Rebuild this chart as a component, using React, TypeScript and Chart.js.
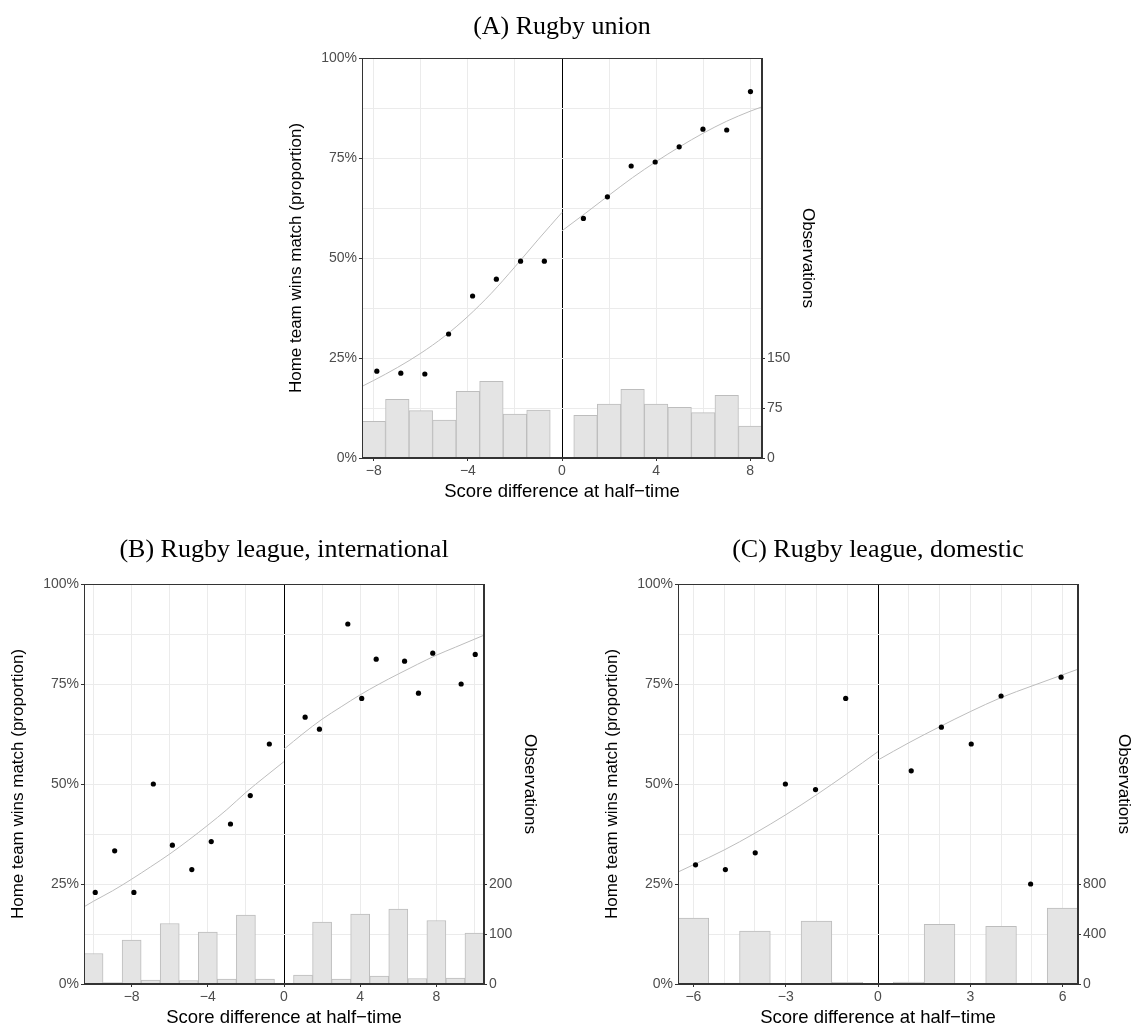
import React, { useEffect, useRef } from 'react';
import { Chart, registerables } from 'chart.js';

Chart.register(...registerables);

// ---------------- Panel A: Rugby union ----------------
const unionBinX = [-8, -7, -6, -5, -4, -3, -2, -1, 1, 2, 3, 4, 5, 6, 7, 8];
const unionBinN = [55, 88, 71, 57, 100, 115, 66, 72, 64, 81, 103, 81, 76, 68, 94, 48];
const unionPointX = [-7.87, -6.85, -5.83, -4.82, -3.8, -2.79, -1.76, -0.75, 0.91, 1.93, 2.94, 3.96, 4.98, 5.99, 7.0, 8.01];
const unionPointY = [21.7, 21.2, 21.0, 31.0, 40.5, 44.7, 49.2, 49.2, 59.9, 65.3, 73.0, 74.0, 77.8, 82.2, 82.0, 91.6];
const unionCurveLeftX = [-8.5, -8, -7, -6, -5, -4, -3, -2, -1, 0];
const unionCurveLeftY = [17.9, 19.4, 22.6, 26.2, 30.4, 35.4, 41.2, 47.8, 54.7, 61.4];
const unionCurveRightX = [0, 1, 2, 3, 4, 5, 6, 7, 8, 8.5];
const unionCurveRightY = [56.8, 61.2, 65.7, 70.1, 74.1, 77.8, 81.2, 84.2, 86.7, 87.8];
const unionXGrid = [-8, -6, -4, -2, 0, 2, 4, 6, 8];
const unionXLabels = [-8, -4, 0, 4, 8];
const unionObsTicks = [0, 75, 150];

// ---------------- Panel B: Rugby league, international ----------------
const intlBinX = [-10, -9, -8, -7, -6, -5, -4, -3, -2, -1, 1, 2, 3, 4, 5, 6, 7, 8, 9, 10];
const intlBinN = [61, 3, 88, 8, 121, 7, 104, 10, 138, 10, 18, 124, 10, 140, 16, 150, 11, 127, 12, 102];
const intlPointX = [-9.91, -8.89, -7.88, -6.86, -5.86, -4.84, -3.82, -2.81, -1.77, -0.77, 1.11, 1.86, 3.35, 4.08, 4.84, 6.33, 7.06, 7.81, 9.3, 10.04];
const intlPointY = [22.9, 33.3, 22.9, 50.0, 34.7, 28.6, 35.6, 40.0, 47.1, 60.0, 66.7, 63.7, 90.0, 71.4, 81.2, 80.7, 72.7, 82.7, 75.0, 82.4];
const intlCurveLeftX = [-10.5, -10, -9, -8, -7, -6, -5, -4, -3, -2, -1, 0];
const intlCurveLeftY = [19.3, 20.7, 23.3, 26.2, 29.3, 32.5, 36.0, 39.7, 43.6, 47.9, 51.8, 55.6];
const intlCurveRightX = [0, 1, 2, 3, 4, 5, 6, 7, 8, 9, 10, 10.5];
const intlCurveRightY = [58.7, 62.6, 66.2, 69.3, 72.3, 75.0, 77.5, 79.9, 82.2, 84.2, 86.2, 87.2];
const intlXGrid = [-10, -8, -6, -4, -2, 0, 2, 4, 6, 8, 10];
const intlXLabels = [-8, -4, 0, 4, 8];
const intlObsTicks = [0, 100, 200];

// ---------------- Panel C: Rugby league, domestic ----------------
const domBinX = [-6, -5, -4, -3, -2, -1, 1, 2, 3, 4, 5, 6];
const domBinN = [528, 7, 424, 6, 504, 14, 15, 477, 5, 461, 4, 608];
const domPointX = [-5.93, -4.96, -3.99, -3.01, -2.03, -1.05, 1.08, 2.06, 3.03, 4.0, 4.96, 5.95];
const domPointY = [29.8, 28.6, 32.8, 50.0, 48.6, 71.4, 53.3, 64.2, 60.0, 72.0, 25.0, 76.7];
const domCurveLeftX = [-6.5, -6, -5, -4, -3, -2, -1, 0];
const domCurveLeftY = [28.0, 29.8, 33.5, 37.7, 42.3, 47.3, 52.6, 58.1];
const domCurveRightX = [0, 1, 2, 3, 4, 5, 6, 6.5];
const domCurveRightY = [56.0, 60.3, 64.3, 68.1, 71.6, 74.5, 77.3, 78.7];
const domXGrid = [-6, -5, -4, -3, -2, -1, 0, 1, 2, 3, 4, 5, 6];
const domXLabels = [-6, -3, 0, 3, 6];
const domObsTicks = [0, 400, 800];

// shared
const pctGrid = [0, 12.5, 25, 37.5, 50, 62.5, 75, 87.5, 100];
const pctLabels = [0, 25, 50, 75, 100];

const SANS = "'Liberation Sans', Arial, Helvetica, sans-serif";
const SERIF = "'Liberation Serif', 'Times New Roman', serif";

type Spec = {
  title: string;
  left: number; top: number; width: number; height: number;
  leftW: number; rightW: number;
  titlePadTop: number; titlePadBottom: number;
  xMin: number; xMax: number; xGrid: number[]; xLabels: number[];
  obsMax: number; obsTicks: number[];
  binX: number[]; binN: number[];
  pointX: number[]; pointY: number[];
  clX: number[]; clY: number[]; crX: number[]; crY: number[];
};

const fmtNum = (v: number) => (v < 0 ? '\u2212' + Math.abs(v) : String(v));
const zip = (xs: number[], ys: number[]) => xs.map((x, i) => ({ x, y: ys[i] }));

const framePlugin = {
  id: 'frame',
  afterDraw(chart: any) {
    const { ctx, chartArea } = chart;
    const l = Math.round(chartArea.left) + 0.5;
    const t = Math.round(chartArea.top) + 0.5;
    const r = Math.round(chartArea.right) - 0.5;
    const b = Math.round(chartArea.bottom) - 0.5;
    ctx.save();
    ctx.strokeStyle = '#333333';
    ctx.lineWidth = 1;
    ctx.strokeRect(l, t, r - l, b - t);
    ctx.restore();
  },
};

const TICK_FONT = { family: SANS, size: 14 };

function buildConfig(s: Spec): any {
  const curveStyle = {
    type: 'line',
    borderColor: '#bdbdbd',
    borderWidth: 1,
    pointRadius: 0,
    fill: false,
    cubicInterpolationMode: 'monotone',
    yAxisID: 'y',
    order: 2,
  };
  return {
    type: 'bar',
    data: {
      datasets: [
        {
          type: 'line',
          data: zip(s.pointX, s.pointY),
          showLine: false,
          pointRadius: 2.6,
          pointBackgroundColor: '#000000',
          pointBorderWidth: 0,
          yAxisID: 'y',
          order: 1,
        },
        { ...curveStyle, data: zip(s.clX, s.clY) },
        { ...curveStyle, data: zip(s.crX, s.crY) },
        {
          type: 'bar',
          data: zip(s.binX, s.binN),
          yAxisID: 'y1',
          backgroundColor: '#e4e4e4',
          borderColor: '#bdbdbd',
          borderWidth: 1,
          barPercentage: 1,
          categoryPercentage: 1,
          order: 3,
        },
      ],
    },
    options: {
      responsive: false,
      animation: false,
      layout: { padding: 0 },
      plugins: {
        legend: { display: false },
        tooltip: { enabled: false },
        title: {
          display: true,
          text: s.title,
          color: '#000000',
          font: { family: SERIF, size: 26, weight: 'normal', lineHeight: 1.2 },
          padding: { top: s.titlePadTop, bottom: s.titlePadBottom },
        },
      },
      scales: {
        x: {
          type: 'linear',
          min: s.xMin,
          max: s.xMax,
          offset: false,
          afterBuildTicks: (sc: any) => {
            sc.ticks = s.xGrid.map((v) => ({ value: v }));
          },
          afterFit: (sc: any) => {
            sc.height = 57;
          },
          ticks: {
            autoSkip: false,
            maxRotation: 0,
            color: '#4d4d4d',
            font: TICK_FONT,
            padding: 2,
            callback: (v: number) => (s.xLabels.includes(v) ? fmtNum(v) : ''),
          },
          grid: {
            offset: false,
            color: (c: any) => (c.tick && c.tick.value === 0 ? '#000000' : '#ebebeb'),
            tickColor: (c: any) => (c.tick && s.xLabels.includes(c.tick.value) ? '#333333' : 'rgba(0,0,0,0)'),
            tickLength: 3,
            lineWidth: 1,
          },
          border: { display: true, color: '#333333', width: 1 },
          title: {
            display: true,
            text: 'Score difference at half\u2212time',
            color: '#000000',
            font: { family: SANS, size: 18.5, lineHeight: 1.2 },
            padding: { top: 0, bottom: 12 },
          },
        },
        y: {
          type: 'linear',
          position: 'left',
          min: 0,
          max: 100,
          afterBuildTicks: (sc: any) => {
            sc.ticks = pctGrid.map((v) => ({ value: v }));
          },
          afterFit: (sc: any) => {
            sc.width = s.leftW;
          },
          ticks: {
            autoSkip: false,
            color: '#4d4d4d',
            font: TICK_FONT,
            padding: 2,
            callback: (v: number) => (pctLabels.includes(v) ? v + '%' : ''),
          },
          grid: {
            color: '#ebebeb',
            tickColor: (c: any) => (c.tick && pctLabels.includes(c.tick.value) ? '#333333' : 'rgba(0,0,0,0)'),
            tickLength: 3,
            lineWidth: 1,
          },
          border: { display: true, color: '#333333', width: 1 },
          title: {
            display: true,
            text: 'Home team wins match (proportion)',
            color: '#000000',
            font: { family: SANS, size: 17, lineHeight: 1.2 },
            padding: { top: s.leftW - 66 - 10.2, bottom: 0 },
          },
        },
        y1: {
          type: 'linear',
          position: 'right',
          min: 0,
          max: s.obsMax,
          afterBuildTicks: (sc: any) => {
            sc.ticks = s.obsTicks.map((v) => ({ value: v }));
          },
          afterFit: (sc: any) => {
            sc.width = s.rightW;
          },
          ticks: {
            autoSkip: false,
            color: '#4d4d4d',
            font: TICK_FONT,
            padding: 2,
            callback: (v: number) => String(v),
          },
          grid: {
            drawOnChartArea: false,
            tickColor: '#333333',
            tickLength: 3,
          },
          border: { display: true, color: '#333333', width: 1 },
          title: {
            display: true,
            text: 'Observations',
            color: '#000000',
            font: { family: SANS, size: 17, lineHeight: 1.2 },
            padding: { top: s.rightW - 46 - 10.2, bottom: 0 },
          },
        },
      },
    },
    plugins: [framePlugin],
  };
}

const specs: Spec[] = [
  {
    title: '(A) Rugby union',
    left: 270, top: 0, width: 584, height: 515,
    leftW: 92, rightW: 92, titlePadTop: 11.4, titlePadBottom: 15.4,
    xMin: -8.5, xMax: 8.5, xGrid: unionXGrid, xLabels: unionXLabels,
    obsMax: 600, obsTicks: unionObsTicks,
    binX: unionBinX, binN: unionBinN, pointX: unionPointX, pointY: unionPointY,
    clX: unionCurveLeftX, clY: unionCurveLeftY, crX: unionCurveRightX, crY: unionCurveRightY,
  },
  {
    title: '(B) Rugby league, international',
    left: 0, top: 520, width: 568, height: 521,
    leftW: 84, rightW: 84, titlePadTop: 14.4, titlePadBottom: 18.4,
    xMin: -10.5, xMax: 10.5, xGrid: intlXGrid, xLabels: intlXLabels,
    obsMax: 800, obsTicks: intlObsTicks,
    binX: intlBinX, binN: intlBinN, pointX: intlPointX, pointY: intlPointY,
    clX: intlCurveLeftX, clY: intlCurveLeftY, crX: intlCurveRightX, crY: intlCurveRightY,
  },
  {
    title: '(C) Rugby league, domestic',
    left: 588, top: 520, width: 580, height: 521,
    leftW: 90, rightW: 90, titlePadTop: 14.4, titlePadBottom: 18.4,
    xMin: -6.5, xMax: 6.5, xGrid: domXGrid, xLabels: domXLabels,
    obsMax: 3200, obsTicks: domObsTicks,
    binX: domBinX, binN: domBinN, pointX: domPointX, pointY: domPointY,
    clX: domCurveLeftX, clY: domCurveLeftY, crX: domCurveRightX, crY: domCurveRightY,
  },
];

function Panel({ spec }: { spec: Spec }) {
  const ref = useRef<HTMLCanvasElement | null>(null);
  useEffect(() => {
    if (!ref.current) return;
    const chart = new Chart(ref.current, buildConfig(spec));
    return () => chart.destroy();
  }, [spec]);
  return (
    <div style={{ position: 'absolute', left: spec.left, top: spec.top, width: spec.width, height: spec.height }}>
      <canvas ref={ref} width={spec.width} height={spec.height} style={{ width: spec.width, height: spec.height, display: 'block' }} />
    </div>
  );
}

export default function App() {
  return (
    <div style={{ position: 'absolute', left: 0, top: 0, width: 1132, height: 1025, overflow: 'hidden', background: '#ffffff' }}>
      {specs.map((s, i) => (
        <Panel key={i} spec={s} />
      ))}
    </div>
  );
}
